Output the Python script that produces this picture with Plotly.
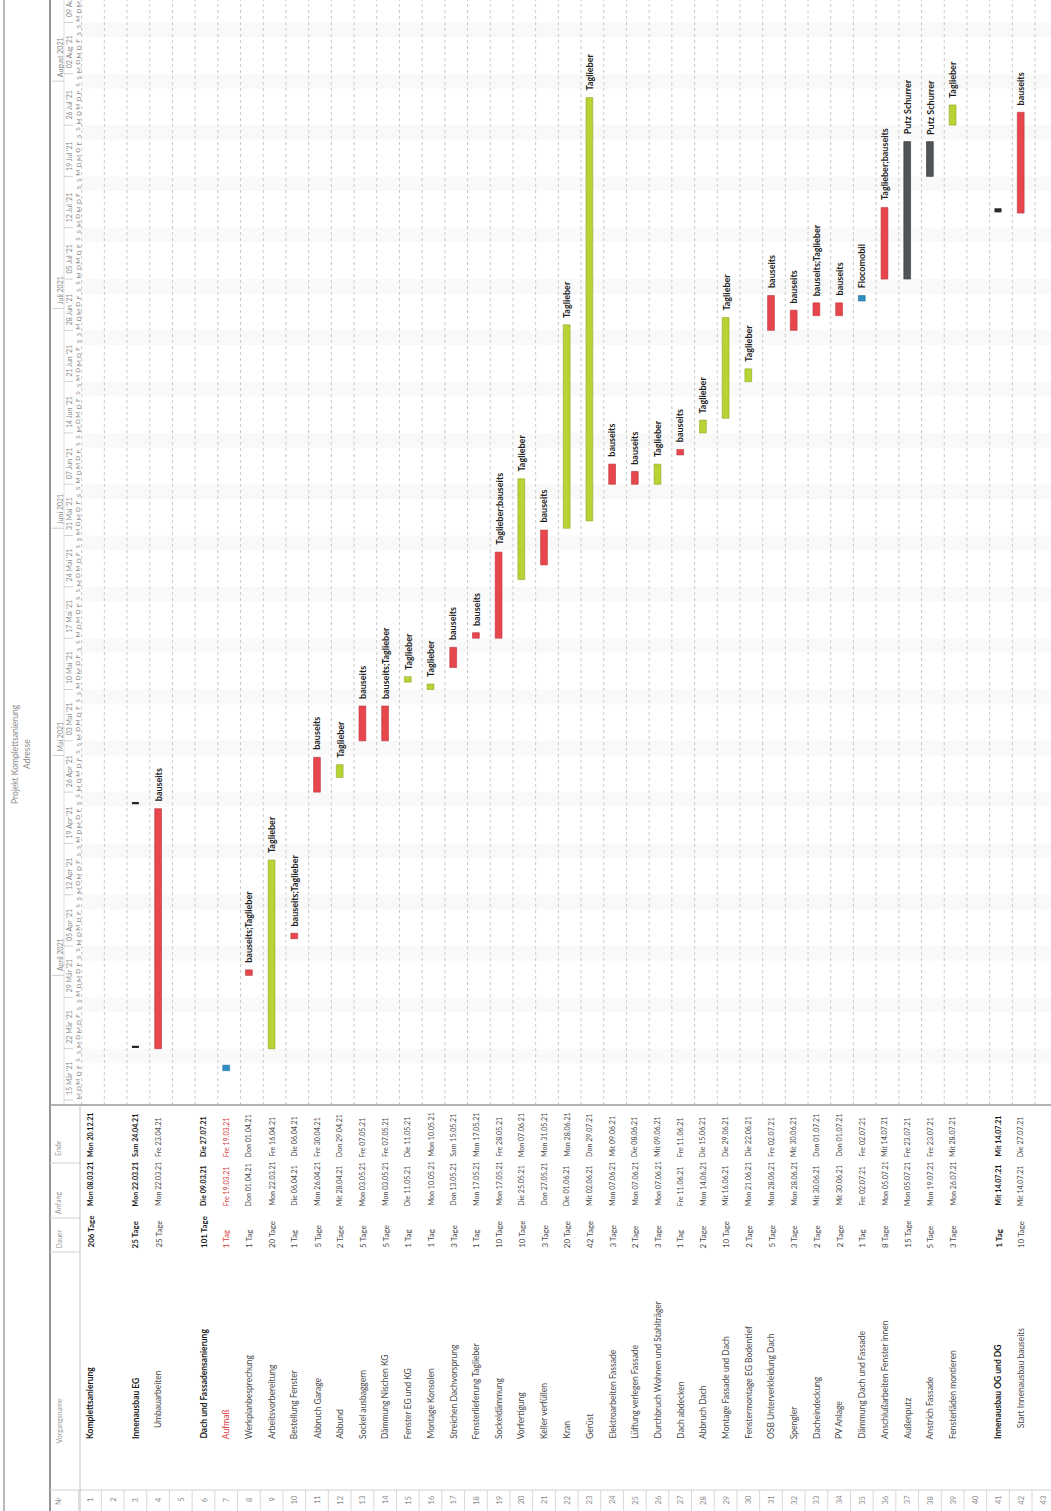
import pandas as pd
import plotly.graph_objects as go

# ---------------- data ----------------
ROWS = list(range(1, 44))
TASK_NAMES = ["Komplettsanierung", "", "Innenausbau EG", "Umbauarbeiten", "", "Dach und Fassadensanierung",
              "Aufmaß", "Werkplanbesprechung", "Arbeitsvorbereitung", "Bestellung Fenster", "Abbruch Garage",
              "Abbund", "Sockel ausbaggern", "Dämmung Nischen KG", "Fenster EG und KG", "Montage Konsolen",
              "Streichen Dachvorsprung", "Fensterlieferung Taglieber", "Sockeldämmung", "Vorfertigung",
              "Keller verfüllen", "Kran", "Gerüst", "Elektroarbeiten Fassade", "Lüftung verlegen Fassade",
              "Durchbruch Wohnen und Stahlträger", "Dach abdecken", "Abbruch Dach", "Montage Fassade und Dach",
              "Fenstermontage EG Bodentief", "OSB Unterverkleidung Dach", "Spengler", "Dacheindeckung", "PV Anlage",
              "Dämmung Dach und Fassade", "Anschlußarbeiten Fenster innen", "Außenputz", "Anstrich Fassade",
              "Fensterläden montieren", "", "Innenausbau OG und DG", "Start Innenausbau bauseits", ""]
DURATIONS = ["206 Tage", "", "25 Tage", "25 Tage", "", "101 Tage", "1 Tag", "1 Tag", "20 Tage", "1 Tag",
             "5 Tage", "2 Tage", "5 Tage", "5 Tage", "1 Tag", "1 Tag", "3 Tage", "1 Tag", "10 Tage", "10 Tage",
             "3 Tage", "20 Tage", "42 Tage", "3 Tage", "2 Tage", "3 Tage", "1 Tag", "2 Tage", "10 Tage", "2 Tage",
             "5 Tage", "3 Tage", "2 Tage", "2 Tage", "1 Tag", "8 Tage", "15 Tage", "5 Tage", "3 Tage", "",
             "1 Tag", "10 Tage", ""]
START_LABELS = ["Mon 08.03.21", "", "Mon 22.03.21", "Mon 22.03.21", "", "Die 09.03.21", "Fre 19.03.21",
                "Don 01.04.21", "Mon 22.03.21", "Die 06.04.21", "Mon 26.04.21", "Mit 28.04.21", "Mon 03.05.21",
                "Mon 03.05.21", "Die 11.05.21", "Mon 10.05.21", "Don 13.05.21", "Mon 17.05.21", "Mon 17.05.21",
                "Die 25.05.21", "Don 27.05.21", "Die 01.06.21", "Mit 02.06.21", "Mon 07.06.21", "Mon 07.06.21",
                "Mon 07.06.21", "Fre 11.06.21", "Mon 14.06.21", "Mit 16.06.21", "Mon 21.06.21", "Mon 28.06.21",
                "Mon 28.06.21", "Mit 30.06.21", "Mit 30.06.21", "Fre 02.07.21", "Mon 05.07.21", "Mon 05.07.21",
                "Mon 19.07.21", "Mon 26.07.21", "", "Mit 14.07.21", "Mit 14.07.21", ""]
END_LABELS = ["Mon 20.12.21", "", "Sam 24.04.21", "Fre 23.04.21", "", "Die 27.07.21", "Fre 19.03.21",
              "Don 01.04.21", "Fre 16.04.21", "Die 06.04.21", "Fre 30.04.21", "Don 29.04.21", "Fre 07.05.21",
              "Fre 07.05.21", "Die 11.05.21", "Mon 10.05.21", "Sam 15.05.21", "Mon 17.05.21", "Fre 28.05.21",
              "Mon 07.06.21", "Mon 31.05.21", "Mon 28.06.21", "Don 29.07.21", "Mit 09.06.21", "Die 08.06.21",
              "Mit 09.06.21", "Fre 11.06.21", "Die 15.06.21", "Die 29.06.21", "Die 22.06.21", "Fre 02.07.21",
              "Mit 30.06.21", "Don 01.07.21", "Don 01.07.21", "Fre 02.07.21", "Mit 14.07.21", "Fre 23.07.21",
              "Fre 23.07.21", "Mit 28.07.21", "", "Mit 14.07.21", "Die 27.07.21", ""]
RESOURCES = ["", "", "", "bauseits", "", "", "", "bauseits;Taglieber", "Taglieber", "bauseits;Taglieber",
             "bauseits", "Taglieber", "bauseits", "bauseits;Taglieber", "Taglieber", "Taglieber", "bauseits",
             "bauseits", "Taglieber;bauseits", "Taglieber", "bauseits", "Taglieber", "Taglieber", "bauseits",
             "bauseits", "Taglieber", "bauseits", "Taglieber", "Taglieber", "Taglieber", "bauseits", "bauseits",
             "bauseits;Taglieber", "bauseits", "Flocomobil", "Taglieber;bauseits", "Putz Schurrer",
             "Putz Schurrer", "Taglieber", "", "", "bauseits", ""]
# bar category per row: S = summary, B = bauseits (red), T = Taglieber (green), P = Putz (grey), F = blue
BAR_GROUP = ["S", "", "S", "B", "", "S", "F", "B", "T", "B", "B", "T", "B", "B", "T", "T", "B", "B", "B", "T",
             "B", "T", "T", "B", "B", "T", "B", "T", "T", "T", "B", "B", "B", "B", "F", "B", "P", "P", "T", "",
             "S", "B", ""]
INDENTED = [4, 42]
RED_TEXT_ROWS = [7]

MONTH_LABELS = ["April 2021", "Mai 2021", "Juni 2021", "Juli 2021", "August 2021"]
MONTH_STARTS = ["2021-04-01", "2021-05-01", "2021-06-01", "2021-07-01", "2021-08-01"]
WEEK_LABELS = ["15 Mär '21", "22 Mär '21", "29 Mär '21", "05 Apr '21", "12 Apr '21", "19 Apr '21",
               "26 Apr '21", "03 Mai '21", "10 Mai '21", "17 Mai '21", "24 Mai '21", "31 Mai '21",
               "07 Jun '21", "14 Jun '21", "21 Jun '21", "28 Jun '21", "05 Jul '21", "12 Jul '21",
               "19 Jul '21", "26 Jul '21", "02 Aug '21", "09 Aug '21"]
DAY_LETTERS = ["M", "D", "M", "D", "F", "S", "S"]
HEADERS = ["Nr", "Vorgangsname", "Dauer", "Anfang", "Ende"]
TITLE_LINES = ["Projekt Komplettsanierung", "Adresse"]

# ---------------- geometry / style ----------------
W, H = 1051, 1511
T0 = pd.Timestamp("2021-03-15")
PX_PER_DAY = 7.33
T0_PX = 1100.0
GANTT_BOTTOM_PX = 1105.0
ROW1_PX, PITCH = 90.0, 22.7
XMIN = 1 - ROW1_PX / PITCH
XMAX = XMIN + W / PITCH
FONT = "Lato, 'Liberation Sans', sans-serif"
COLORS = {"B": "#e8464d", "T": "#b7d334", "P": "#505459", "F": "#2f8ec4"}
EDGES = {"B": "#b8343a", "T": "#8fa82a", "P": "#33363a", "F": "#1f6a96"}


def px_date(px):
    return T0 + pd.Timedelta(days=(T0_PX - px) / PX_PER_DAY)


def xp(px):
    return px / W


def yp(px):
    return 1 - px / H


def parse(lbl):
    return pd.to_datetime(lbl[4:], format="%d.%m.%y")


fig = go.Figure()

# ---------------- bars ----------------
for key in ["B", "T", "P", "F"]:
    xs, bases, lens = [], [], []
    for r, g, s, e in zip(ROWS, BAR_GROUP, START_LABELS, END_LABELS):
        if g != key:
            continue
        st = parse(s)
        en = parse(e) + pd.Timedelta(hours=18)
        xs.append(r)
        bases.append(str(st))
        lens.append((en - st).total_seconds() * 1000)
    fig.add_trace(go.Bar(x=xs, y=lens, base=bases, width=0.3, orientation="v",
                         marker=dict(color=COLORS[key], line=dict(color=EDGES[key], width=0.6)),
                         hoverinfo="skip", showlegend=False))

# summary markers (only those starting inside the visible timescale)
sx, sy = [], []
for r, g, s, e in zip(ROWS, BAR_GROUP, START_LABELS, END_LABELS):
    if g == "S" and parse(s) >= T0:
        st, en = parse(s), parse(e) + pd.Timedelta(hours=18)
        sx += [r, r]
        sy += [str(st + pd.Timedelta(hours=6)), str(en - pd.Timedelta(hours=6))]
fig.add_trace(go.Scatter(x=sx, y=sy, mode="markers", hoverinfo="skip", showlegend=False,
                         marker=dict(symbol="line-ew", size=5, line=dict(color="#222", width=2.2))))

ann = []
# bar labels
for r, g, e, res in zip(ROWS, BAR_GROUP, END_LABELS, RESOURCES):
    if res:
        en = parse(e) + pd.Timedelta(hours=18)
        ann.append(dict(x=r, y=str(en), xref="x", yref="y", text=res, showarrow=False, textangle=-90,
                        xanchor="center", yanchor="bottom", yshift=5,
                        font=dict(family=FONT, size=9, color="#1e1e1e", weight="bold")))

# table texts
for r, name, dur, s, e, g in zip(ROWS, TASK_NAMES, DURATIONS, START_LABELS, END_LABELS, BAR_GROUP):
    bold = g == "S"
    col = "#d83a3a" if r in RED_TEXT_ROWS else ("#1a1a1a" if bold else "#4a4a4a")
    w = "bold" if bold else "normal"
    ann.append(dict(x=r, y=yp(1500), xref="x", yref="paper", text=str(r), showarrow=False, textangle=-90,
                    xanchor="center", yanchor="middle", font=dict(family=FONT, size=7.5, color="#8a8a8a")))
    cells = [(name, 1441 - (11 if r in INDENTED else 0), 8.5), (dur, 1250, 8),
             (s, 1208, 7.1), (e, 1159, 7.1)]
    for txt, ypx, fs in cells:
        if txt:
            ann.append(dict(x=r, y=yp(ypx), xref="x", yref="paper", text=txt, showarrow=False, textangle=-90,
                            xanchor="center", yanchor="bottom",
                            font=dict(family=FONT, size=fs, color=col, weight=w)))

# table header
for txt, ypx, anch in zip(HEADERS, [1501, 1446, 1251, 1216, 1158], ["middle", "bottom", "bottom", "bottom", "bottom"]):
    ann.append(dict(x=xp(58), y=yp(ypx), xref="paper", yref="paper", text=txt, showarrow=False, textangle=-90,
                    xanchor="center", yanchor=anch, font=dict(family=FONT, size=7, color="#9a9a9a")))

# title
for txt, xpx in zip(TITLE_LINES, [15, 27]):
    ann.append(dict(x=xp(xpx), y=yp(754), xref="paper", yref="paper", text=txt, showarrow=False, textangle=-90,
                    xanchor="center", yanchor="middle", font=dict(family=FONT, size=8.5, color="#8c8c8c")))

# timescale: months
for lbl, ms in zip(MONTH_LABELS, MONTH_STARTS):
    ann.append(dict(x=xp(60), y=ms, xref="paper", yref="y", text=lbl, showarrow=False, textangle=-90,
                    xanchor="center", yanchor="bottom", yshift=2,
                    font=dict(family=FONT, size=7, color="#8a8a8a")))
# weeks
week_starts = pd.date_range(T0, periods=len(WEEK_LABELS), freq="7D")
for lbl, ws in zip(WEEK_LABELS, week_starts):
    ann.append(dict(x=xp(69), y=str(ws), xref="paper", yref="y", text=lbl, showarrow=False, textangle=-90,
                    xanchor="center", yanchor="bottom", yshift=3,
                    font=dict(family=FONT, size=7, color="#8a8a8a")))
# days
for d in range(0, 150):
    day = T0 + pd.Timedelta(days=d, hours=12)
    ann.append(dict(x=xp(78), y=str(day), xref="paper", yref="y", text=DAY_LETTERS[day.weekday()],
                    showarrow=False, textangle=-90, xanchor="center", yanchor="middle",
                    font=dict(family=FONT, size=6.5, color="#8a8a8a")))

# ---------------- shapes ----------------
shapes = []
# weekend shading (very faint)
for sat in pd.date_range("2021-03-20", "2021-08-14", freq="7D"):
    shapes.append(dict(type="rect", xref="paper", yref="y", x0=xp(82), x1=1, y0=str(sat),
                       y1=str(sat + pd.Timedelta(days=2)), fillcolor="#f9f9f9", line=dict(width=0), layer="below"))
# row separators in gantt (dotted)
for r in range(0, 44):
    shapes.append(dict(type="line", xref="x", yref="paper", x0=r + 0.5 + 3 / PITCH, x1=r + 0.5 + 3 / PITCH,
                       y0=yp(GANTT_BOTTOM_PX), y1=1, line=dict(color="#c9c9c9", width=1, dash="dot"), layer="below"))
    # Nr column cell borders
    shapes.append(dict(type="line", xref="x", yref="paper", x0=r + 0.5, x1=r + 0.5,
                       y0=0, y1=yp(1490), line=dict(color="#d8d8d8", width=1)))
# month tier boundaries
for ms in MONTH_STARTS:
    shapes.append(dict(type="line", xref="paper", yref="y", x0=xp(52), x1=xp(64), y0=ms, y1=ms,
                       line=dict(color="#cfcfcf", width=1)))
# week boundaries
for ws in week_starts:
    shapes.append(dict(type="line", xref="paper", yref="y", x0=xp(64), x1=xp(73), y0=str(ws), y1=str(ws),
                       line=dict(color="#cfcfcf", width=1)))
# page frame lines
shapes += [
    dict(type="line", xref="paper", yref="paper", x0=xp(4), x1=xp(4), y0=0, y1=1, line=dict(color="#8a8a8a", width=1.2)),
    dict(type="line", xref="paper", yref="paper", x0=xp(50), x1=xp(50), y0=0, y1=1, line=dict(color="#7a7a7a", width=1.6)),
    dict(type="line", xref="paper", yref="paper", x0=xp(64), x1=xp(64), y0=yp(GANTT_BOTTOM_PX), y1=1,
         line=dict(color="#dddddd", width=1)),
    dict(type="line", xref="paper", yref="paper", x0=xp(50), x1=1, y0=yp(GANTT_BOTTOM_PX), y1=yp(GANTT_BOTTOM_PX),
         line=dict(color="#9a9a9a", width=1.5)),
    dict(type="line", xref="paper", yref="paper", x0=xp(80), x1=xp(80), y0=0, y1=yp(GANTT_BOTTOM_PX),
         line=dict(color="#c0c0c0", width=1)),
    dict(type="line", xref="paper", yref="paper", x0=xp(50), x1=1, y0=yp(1490), y1=yp(1490),
         line=dict(color="#d0d0d0", width=1)),
]
for ypx in [1252, 1218, 1163]:
    shapes.append(dict(type="line", xref="paper", yref="paper", x0=xp(50), x1=xp(80), y0=yp(ypx), y1=yp(ypx),
                       line=dict(color="#d0d0d0", width=1)))

fig.update_layout(
    width=W, height=H, margin=dict(l=0, r=0, t=0, b=0),
    paper_bgcolor="white", plot_bgcolor="white",
    barmode="overlay", showlegend=False,
    xaxis=dict(range=[XMIN, XMAX], domain=[0, 1], visible=False, fixedrange=True),
    yaxis=dict(type="date", range=[str(px_date(GANTT_BOTTOM_PX)), str(px_date(0))],
               domain=[yp(GANTT_BOTTOM_PX), 1], visible=False, fixedrange=True),
    annotations=ann, shapes=shapes,
)

fig.write_html("out.html")
